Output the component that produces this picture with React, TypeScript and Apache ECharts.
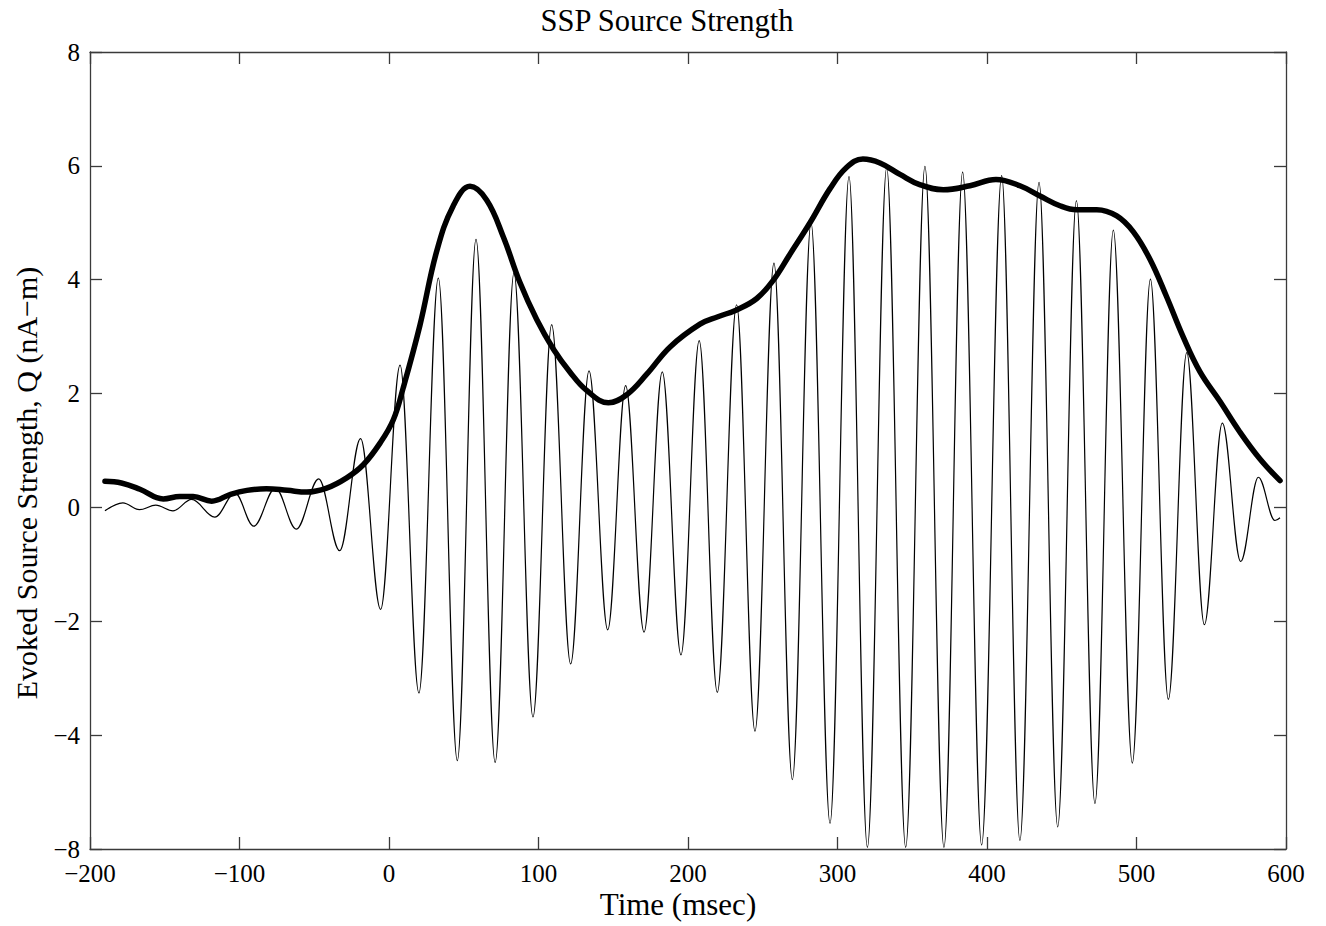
import React, { useEffect, useRef } from "react";
import * as echarts from "echarts";

const chartTitle = "SSP Source Strength";
const xAxisTitle = "Time (msec)";
const yAxisTitle = "Evoked Source Strength, Q (nA\u2212m)";

// axis ticks as printed in the reference (bottom tick is printed "−8")
const yTickValues = [-6, -4, -2, 0, 2, 4, 6, 8];
const yTickLabels = ["\u22128", "\u22124", "\u22122", "0", "2", "4", "6", "8"];

// thin trace: successive peaks / troughs (ms, nA-m)
const oscTimes = [
  -190, -178, -167, -156, -144.5, -132, -116.5, -103, -90.5, -76, -62, -47, -33, -19, -5.6,
  7.4, 20, 33, 45.7, 58.2, 71, 83.6, 96.3, 108.8, 121.5, 133.8, 146.3, 158.3, 170.6, 182.8,
  195.3, 207.5, 219.6, 232.5, 244.8, 257.5, 269.8, 282.3, 295, 307.7, 320, 332.9, 345.6,
  358.5, 371.2, 383.7, 396.4, 409.8, 422, 434.8, 447.3, 459.8, 472.2, 484.5, 497.2, 509.3,
  521.3, 533.6, 545.4, 557.4, 569.7, 581.5, 592.6, 596,
];
const oscValues = [
  -0.06, 0.08, -0.04, 0.04, -0.06, 0.14, -0.17, 0.25, -0.33, 0.34, -0.38, 0.5, -0.76, 1.21, -1.79,
  2.5, -3.26, 4.03, -4.45, 4.71, -4.48, 4.12, -3.68, 3.21, -2.75, 2.4, -2.15, 2.14, -2.19, 2.38,
  -2.59, 2.93, -3.25, 3.56, -3.93, 4.29, -4.78, 5.0, -5.55, 5.81, -5.97, 5.97, -5.97,
  5.99, -5.97, 5.89, -5.93, 5.83, -5.85, 5.71, -5.61, 5.39, -5.2, 4.87, -4.49, 4.01,
  -3.37, 2.72, -2.06, 1.48, -0.95, 0.53, -0.23, -0.18,
];

// thick trace: envelope
const envTimes = [
  -190, -179, -166.6, -151, -140, -131, -118.6, -106, -95, -82, -68, -55, -41.7, -28.3, -17.2,
  -6, 2.9, 9.5, 20.7, 31.9, 43, 54.2, 65.3, 76.5, 87.6, 98.8, 110, 121, 132, 146.7, 159,
  172.4, 188, 208, 220, 232.5, 246, 257, 268, 281.6, 295, 306, 317, 328.4, 341.8, 355,
  370.8, 388.6, 406, 422, 435.5, 448.8, 460, 473.4, 486.8, 497.9, 509, 520, 531.3, 542.5,
  555.9, 569, 582.6, 596,
];
const envValues = [
  0.46, 0.43, 0.32, 0.15, 0.19, 0.19, 0.11, 0.23, 0.3, 0.33, 0.3, 0.27, 0.34, 0.52, 0.75,
  1.13, 1.54, 2.1, 3.2, 4.5, 5.3, 5.64, 5.4, 4.75, 3.95, 3.3, 2.78, 2.38, 2.06, 1.84, 1.98,
  2.34, 2.82, 3.22, 3.35, 3.47, 3.67, 3.99, 4.44, 5.0, 5.6, 5.97, 6.12, 6.05, 5.85, 5.67,
  5.58, 5.65, 5.76, 5.65, 5.47, 5.3, 5.23, 5.23, 5.12, 4.84, 4.36, 3.71, 2.99, 2.38,
  1.86, 1.33, 0.85, 0.47,
];

const SERIF = "'Liberation Serif', 'DejaVu Serif', serif";
const minusFix = (v: number) => String(v).replace("-", "\u2212");

export default function App() {
  const ref = useRef<HTMLDivElement>(null);
  useEffect(() => {
    if (!ref.current) return;
    const chart = echarts.init(ref.current, undefined, { renderer: "svg" });
    const axisLineStyle = { color: "#3a3a3a", width: 1.3 };
    const xCommon = {
      type: "value" as const,
      min: -200,
      max: 600,
      interval: 100,
      splitLine: { show: false },
      axisLine: { show: true, lineStyle: axisLineStyle, onZero: false },
      axisTick: { show: true, inside: true, length: 12, lineStyle: axisLineStyle },
    };
    const yCommon = {
      type: "value" as const,
      min: -6,
      max: 8,
      interval: 2,
      splitLine: { show: false },
      axisLine: { show: true, lineStyle: axisLineStyle, onZero: false },
      axisTick: { show: true, inside: true, length: 12, lineStyle: axisLineStyle },
    };
    chart.setOption({
      animation: false,
      backgroundColor: "#ffffff",
      grid: { left: 90, right: 40, top: 52, bottom: 77, containLabel: false },
      xAxis: [
        {
          ...xCommon,
          position: "bottom",
          axisLabel: {
            show: true,
            margin: 12,
            fontFamily: SERIF,
            fontSize: 25,
            color: "#000",
            formatter: (v: number) => minusFix(v),
          },
        },
        { ...xCommon, position: "top", axisLabel: { show: false } },
      ],
      yAxis: [
        {
          ...yCommon,
          position: "left",
          axisLabel: {
            show: true,
            margin: 10,
            fontFamily: SERIF,
            fontSize: 25,
            color: "#000",
            formatter: (v: number) => {
              const i = yTickValues.indexOf(v);
              return i >= 0 ? yTickLabels[i] : minusFix(v);
            },
          },
        },
        { ...yCommon, position: "right", axisLabel: { show: false } },
      ],
      series: [
        {
          type: "line",
          data: oscTimes.map((t, i) => [t, oscValues[i]]),
          showSymbol: false,
          smooth: 0.36,
          smoothMonotone: "x",
          lineStyle: { color: "#000", width: 1.2 },
          z: 2,
        },
        {
          type: "line",
          data: envTimes.map((t, i) => [t, envValues[i]]),
          showSymbol: false,
          smooth: 0.4,
          lineStyle: { color: "#000", width: 5.5, cap: "round", join: "round" },
          z: 3,
        },
      ],
      graphic: [
        {
          type: "text",
          x: 667,
          y: 21,
          style: {
            text: chartTitle,
            font: `30.5px ${SERIF}`,
            fill: "#000",
            textAlign: "center",
            textVerticalAlign: "middle",
          },
        },
        {
          type: "text",
          x: 678,
          y: 904,
          style: {
            text: xAxisTitle,
            font: `31px ${SERIF}`,
            fill: "#000",
            textAlign: "center",
            textVerticalAlign: "middle",
          },
        },
        {
          type: "text",
          x: 26,
          y: 483,
          rotation: Math.PI / 2,
          style: {
            text: yAxisTitle,
            font: `30px ${SERIF}`,
            fill: "#000",
            textAlign: "center",
            textVerticalAlign: "middle",
          },
        },
      ],
    });
    return () => chart.dispose();
  }, []);
  return (
    <div
      ref={ref}
      style={{ position: "absolute", left: 0, top: 0, width: 1326, height: 926, background: "#fff" }}
    />
  );
}
